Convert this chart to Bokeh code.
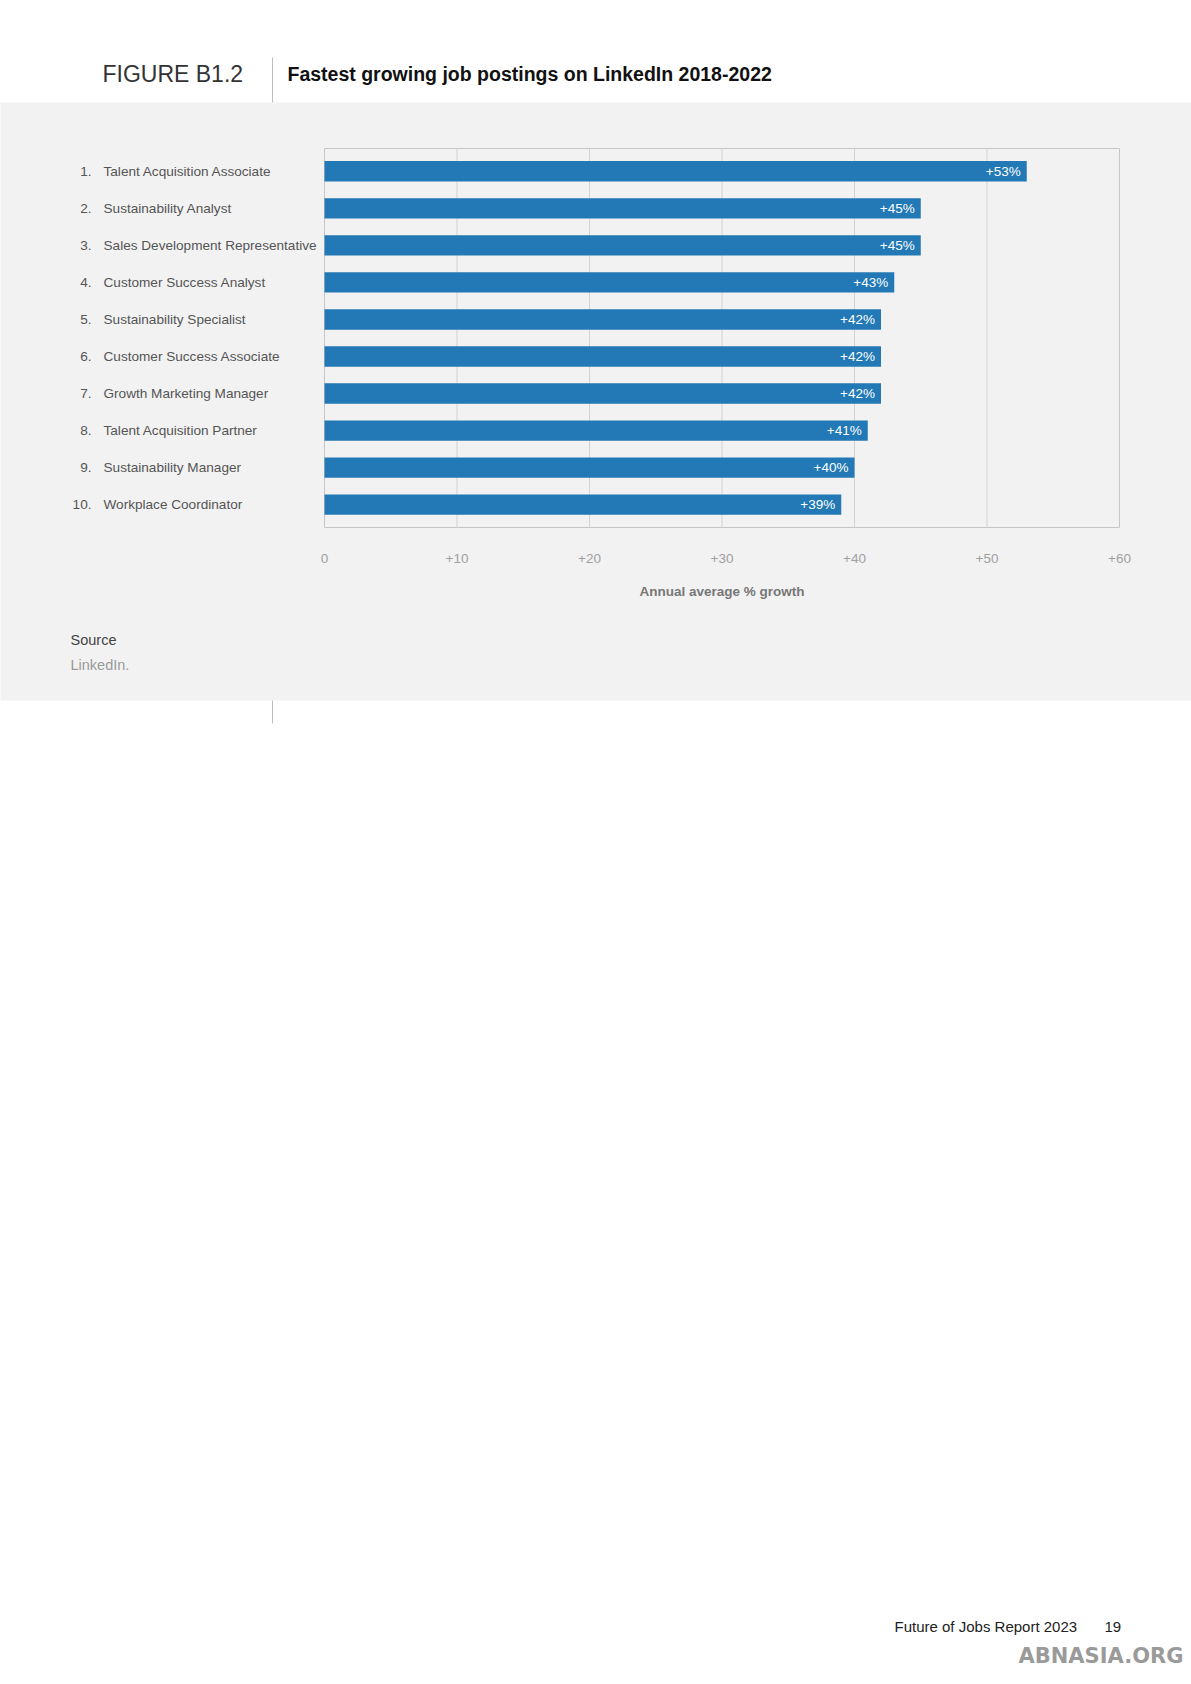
from bokeh.plotting import figure
from bokeh.models import ColumnDataSource, Range1d
from bokeh.core.properties import value
from bokeh.embed import file_html
from bokeh.resources import INLINE

# ---------------- data ----------------
ranks = ["1.", "2.", "3.", "4.", "5.", "6.", "7.", "8.", "9.", "10."]
jobs = [
    "Talent Acquisition Associate",
    "Sustainability Analyst",
    "Sales Development Representative",
    "Customer Success Analyst",
    "Sustainability Specialist",
    "Customer Success Associate",
    "Growth Marketing Manager",
    "Talent Acquisition Partner",
    "Sustainability Manager",
    "Workplace Coordinator",
]
growth = [53, 45, 45, 43, 42, 42, 42, 41, 40, 39]
x_ticks = [0, 10, 20, 30, 40, 50, 60]
x_tick_labels = ["0", "+10", "+20", "+30", "+40", "+50", "+60"]

# ---------------- page geometry (pixels) ----------------
FONT = "Liberation Sans"
W, H = 1191, 1684
BAND = "#f2f2f2"
BAR = "#2279b5"
BOX_L, BOX_R, BOX_T, BOX_B = 324, 1119, 148, 527
ROW0, ROW_PX = 170.8, 37.04

PX_PER_UNIT = (BOX_R - BOX_L) / (x_ticks[-1] - x_ticks[0])


def X(px):
    return x_ticks[0] + (px - BOX_L) / PX_PER_UNIT


def Y(py):
    return 1 + (py - ROW0) / ROW_PX


p = figure(width=W, height=H,
           x_range=Range1d(X(0), X(W)), y_range=Range1d(Y(H), Y(0)),
           x_axis_location=None, y_axis_location=None, toolbar_location=None,
           output_backend="svg", min_border=0, outline_line_color=None,
           background_fill_color="white", border_fill_color="white")
p.grid.visible = False

# grey band
p.quad(left=[X(-5)], right=[X(W + 5)], top=[Y(102)], bottom=[Y(700)],
       fill_color=BAND, line_color=None)

# header
p.segment(x0=[X(272)], y0=[Y(57)], x1=[X(272)], y1=[Y(102)], line_color="#bdbdbd", line_width=1)
p.text(x=[X(102)], y=[Y(73)], text=["FIGURE B1.2"], text_align="left", text_baseline="middle",
       text_font=value(FONT), text_font_size="23px", text_color="#333333")
p.text(x=[X(287)], y=[Y(73)], text=["Fastest growing job postings on LinkedIn 2018-2022"],
       text_align="left", text_baseline="middle", text_font=value(FONT),
       text_font_size="19.5px", text_font_style="bold", text_color="#111111")

# chart box + grid
p.quad(left=[x_ticks[0]], right=[x_ticks[-1]], top=[Y(BOX_T)], bottom=[Y(BOX_B)],
       fill_color=None, line_color="#c6c6c6", line_width=1)
p.segment(x0=x_ticks[1:-1], y0=[Y(BOX_T)] * (len(x_ticks) - 2),
          x1=x_ticks[1:-1], y1=[Y(BOX_B)] * (len(x_ticks) - 2),
          line_color="#d2d2d2", line_width=1)

src = ColumnDataSource(dict(
    y=list(range(1, len(jobs) + 1)),
    job=jobs,
    rank=ranks,
    growth=growth,
    label=[f"+{v}%" for v in growth],
))

p.hbar(y="y", left=0, right="growth", height=0.55, source=src,
       fill_color=BAR, line_color=None)
p.text(x="growth", y="y", text="label", source=src, x_offset=-6,
       text_align="right", text_baseline="middle", text_color="white",
       text_font=value(FONT), text_font_size="13.5px")

p.text(x=X(91), y="y", text="rank", source=src, text_align="right", text_baseline="middle",
       text_color="#555555", text_font=value(FONT), text_font_size="13.6px")
p.text(x=X(103), y="y", text="job", source=src, text_align="left", text_baseline="middle",
       text_color="#555555", text_font=value(FONT), text_font_size="13.6px")

# x tick labels and axis title
p.text(x=x_ticks, y=[Y(558)] * len(x_ticks), text=x_tick_labels, text_align="center",
       text_baseline="middle", text_color="#a0a0a0", text_font=value(FONT),
       text_font_size="13.5px")
p.text(x=[(x_ticks[0] + x_ticks[-1]) / 2], y=[Y(591)], text=["Annual average % growth"],
       text_align="center", text_baseline="middle", text_color="#777777",
       text_font=value(FONT), text_font_size="13.5px", text_font_style="bold")

# source
p.text(x=[X(70)], y=[Y(639)], text=["Source"], text_baseline="middle",
       text_font=value(FONT), text_font_size="14.5px", text_color="#444444")
p.text(x=[X(70)], y=[Y(664)], text=["LinkedIn."], text_baseline="middle",
       text_font=value(FONT), text_font_size="14.5px", text_color="#9a9a9a")

# footer
p.segment(x0=[X(272)], y0=[Y(700)], x1=[X(272)], y1=[Y(723)], line_color="#bdbdbd", line_width=1)
p.text(x=[X(894)], y=[Y(1626)], text=["Future of Jobs Report 2023"], text_baseline="middle",
       text_font=value(FONT), text_font_size="15px", text_color="#222222")
p.text(x=[X(1104)], y=[Y(1626)], text=["19"], text_baseline="middle",
       text_font=value(FONT), text_font_size="15px", text_color="#222222")
p.text(x=[X(1018)], y=[Y(1655)], text=["ABNASIA.ORG"], text_baseline="middle",
       text_font=value("DejaVu Sans"), text_font_size="21px", text_font_style="bold",
       text_color="#9a9a9a")

open("out.html", "w").write(file_html(p, INLINE))
